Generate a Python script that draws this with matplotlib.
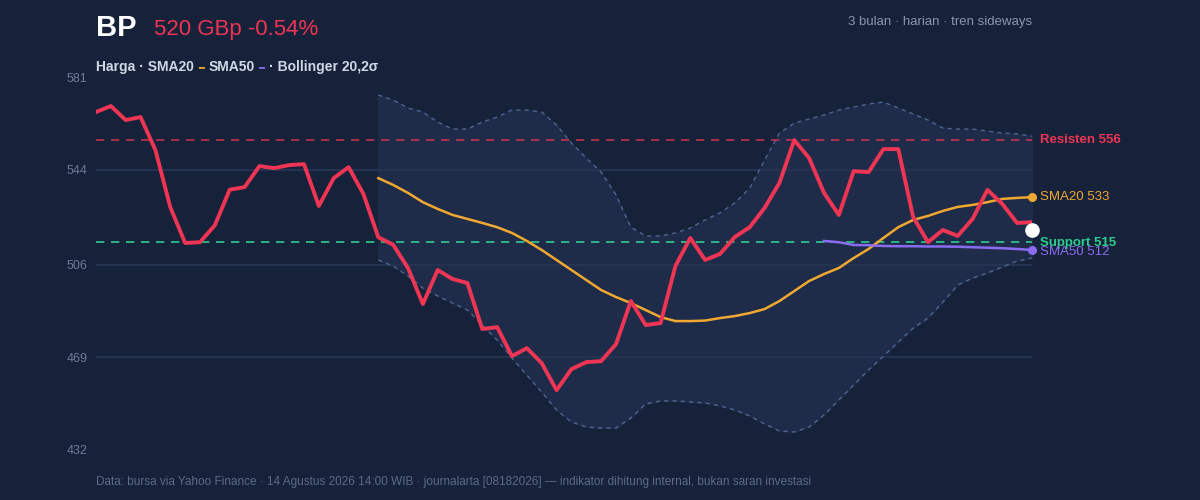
import matplotlib
matplotlib.use("Agg")
import matplotlib.pyplot as plt
import numpy as np

plt.rcParams["font.family"] = ["Liberation Sans", "DejaVu Sans"]

price = [567, 569.4, 563.8, 565, 551.8, 529, 514.7, 515, 521.8, 536, 537, 545.4, 544.6, 545.8, 546.2,
         529.5, 540.6, 545, 534.3, 517, 514, 504.7, 490.3, 503.9, 500.3, 498.7, 480.3, 481.1, 469.5,
         472.7, 466.7, 455.9, 464.3, 467.1, 467.5, 474.3, 491.5, 481.9, 482.7, 505.5, 516.7, 507.9,
         510.3, 517.1, 521, 528.7, 538.7, 555.8, 548.6, 534.7, 525.9, 543.4, 543, 552.2, 552.2, 525.1,
         515, 519.9, 517.5, 524.3, 535.9, 530.3, 522.7, 523]
sma20 = [540.6, 537.9, 534.7, 531, 528.3, 525.9, 524.3, 522.7, 521, 518.7, 515.5, 511.9, 507.9, 503.9,
         499.9, 495.9, 493.1, 490.7, 487.9, 485.1, 483.5, 483.5, 483.7, 484.7, 485.5, 486.7, 488.3,
         491.5, 495.5, 499.5, 502.3, 504.7, 508.7, 512.3, 516.7, 521, 523.9, 525.5, 527.5, 529.1,
         529.9, 531, 532.3, 532.7, 533]
sma50 = [515.5, 515, 513.9, 513.8, 513.5, 513.4, 513.4, 513.3, 513.3, 513.2, 513.0, 512.8, 512.6, 512.3, 511.9]
bb_upper = [573.8, 571.8, 568.6, 567, 563, 560.2, 560.2, 563, 565, 567.8, 567.8, 567, 561.8, 554.6, 548.6,
            543, 533.9, 521, 517.5, 517.5, 518.7, 520.7, 523.9, 526.7, 530.7, 536.6, 547.8, 558.6, 562.6,
            564.2, 565.8, 567.8, 569, 570.2, 571, 568.6, 566.2, 563.8, 560.6, 560.2, 560.2, 559.4, 558.6,
            558.2, 557.4]
bb_lower = [507.9, 505.5, 501.5, 496.7, 493.5, 490.7, 487.9, 481.9, 475.9, 468.7, 461.9, 455.1, 448, 443.2,
            441.2, 440.8, 440.8, 444.8, 450.4, 451.6, 451.6, 451.2, 450.8, 449.6, 448, 445.6, 442.4, 439.6,
            439.2, 441.2, 446, 452, 458, 464, 469.5, 475.1, 480.7, 484.7, 491.1, 497.9, 500.7, 502.7,
            505.1, 507.5, 508.7]
last_price = 520
resist, support = 556, 515
yticks = [432, 469, 506, 544, 581]

BG = "#16213a"
RED = "#ee3553"
ORANGE = "#f0a830"
PURPLE = "#8b6cf0"
GREEN = "#2ecc8f"
MUTED = "#8a96ad"
LEG = "#d0d8e6"

fig = plt.figure(figsize=(12, 5), dpi=100, facecolor=BG)
ax = fig.add_axes([96 / 1200, 0.1, 936 / 1200, 0.746], facecolor=BG)

n = len(price)
x = np.arange(n)
xb = x[n - len(bb_upper):]
x50 = x[n - len(sma50):]

ax.fill_between(xb, bb_lower, bb_upper, color="#1e2c4a", zorder=1)
ax.plot(xb, bb_upper, color="#4f6590", lw=1, ls=(0, (3, 3)), zorder=2)
ax.plot(xb, bb_lower, color="#4f6590", lw=1, ls=(0, (3, 3)), zorder=2)

for t in yticks[1:-1]:
    ax.axhline(t, color="#243352", lw=1.5, zorder=1.5)

ax.axhline(resist, color=RED, lw=1.2, ls=(0, (5, 4)), alpha=0.8, zorder=2)
ax.axhline(support, color=GREEN, lw=1.2, ls=(0, (5, 4)), zorder=2)

ax.plot(xb, sma20, color=ORANGE, lw=1.8, zorder=3)
ax.plot(x50, sma50, color=PURPLE, lw=1.8, zorder=3)
ax.plot(x, price, color=RED, lw=2.8, zorder=4, solid_joinstyle="round")
ax.scatter([xb[-1]], [sma20[-1]], color=ORANGE, s=30, zorder=5, clip_on=False)
ax.scatter([x50[-1]], [sma50[-1]], color=PURPLE, s=30, zorder=5, clip_on=False)
ax.scatter([n - 1], [last_price], color="white", s=90, zorder=6, clip_on=False)

tx = n - 1 + 0.55
ax.text(tx, resist, f"Resisten {resist}", color=RED, fontsize=9.5, fontweight="bold", va="center")
ax.text(tx, sma20[-1], f"SMA20 {sma20[-1]:.0f}", color=ORANGE, fontsize=9.5, va="center")
ax.text(tx, support - 0.3, f"Support {support}", color=GREEN, fontsize=9.5, fontweight="bold", va="center")
ax.text(tx, sma50[-1] - 0.8, f"SMA50 {sma50[-1]:.0f}", color=PURPLE, fontsize=9.5, va="center")

ax.set_xlim(0, n - 1)
ax.set_ylim(yticks[0], yticks[-1])
ax.set_yticks(yticks)
ax.set_xticks([])
ax.tick_params(axis="y", length=0, colors="#6f7c96", labelsize=9, pad=6)
for s in ax.spines.values():
    s.set_visible(False)

fig.text(96 / 1200, 1 - 28 / 500, "BP", color="white", fontsize=21, fontweight="bold", va="center")
fig.text(154 / 1200, 1 - 30 / 500, "520 GBp -0.54%", color=RED, fontsize=16, va="center")
fig.text(1032 / 1200, 1 - 22 / 500, "3 bulan · harian · tren sideways", color=MUTED, fontsize=9.5,
         ha="right", va="center")

# legend row: chained text pieces
pieces = [("Harga · SMA20", LEG, 10, "bold"), ("━", ORANGE, 7, "normal"), ("SMA50", LEG, 10, "bold"),
          ("━", PURPLE, 7, "normal"), ("· Bollinger 20,2σ", LEG, 10, "bold")]
prev = fig.text(96 / 1200, 1 - 67 / 500, pieces[0][0], color=pieces[0][1], fontsize=pieces[0][2],
                fontweight=pieces[0][3], va="center")
for txt, col, size, w in pieces[1:]:
    prev = ax.annotate(txt, xy=(1, 0.5), xycoords=prev, xytext=(3, 0), textcoords="offset points",
                       va="center", ha="left", color=col, fontsize=size, fontweight=w,
                       annotation_clip=False)

fig.text(96 / 1200, 1 - 482 / 500,
         "Data: bursa via Yahoo Finance · 14 Agustus 2026 14:00 WIB · journalarta [08182026] — indikator dihitung internal, bukan saran investasi",
         color="#5c6a85", fontsize=8.5, va="center")

fig.savefig("out.png", dpi=100, facecolor=BG)
